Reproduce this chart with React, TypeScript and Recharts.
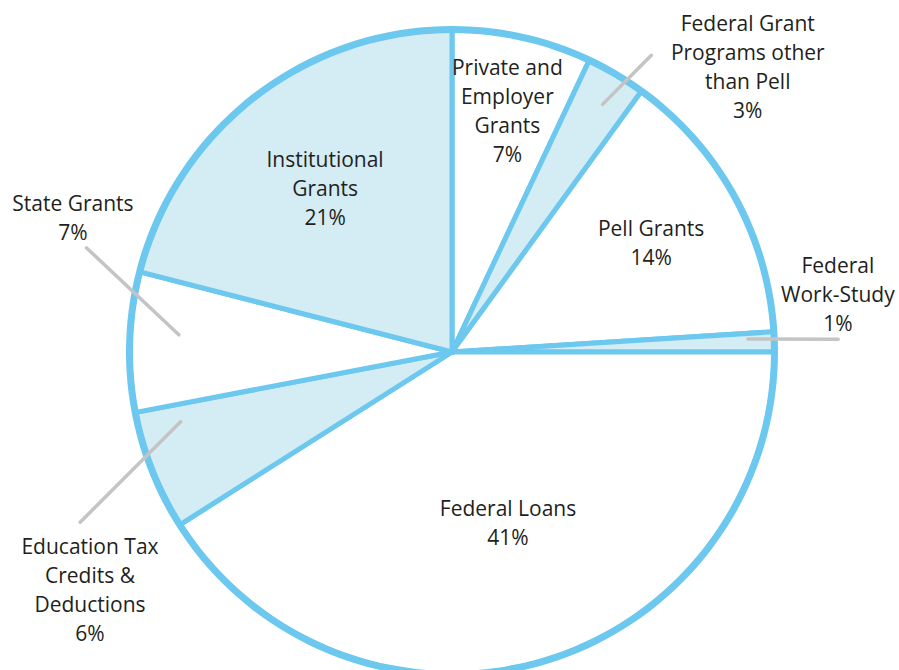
import { PieChart, Pie, Cell } from 'recharts'

const categories = [
  'Private and Employer Grants',
  'Federal Grant Programs other than Pell',
  'Pell Grants',
  'Federal Work-Study',
  'Federal Loans',
  'Education Tax Credits & Deductions',
  'State Grants',
  'Institutional Grants',
]
const shares = [7, 3, 14, 1, 41, 6, 7, 21]
const labelLines = [
  ['Private and', 'Employer', 'Grants'],
  ['Federal Grant', 'Programs other', 'than Pell'],
  ['Pell Grants'],
  ['Federal', 'Work-Study'],
  ['Federal Loans'],
  ['Education Tax', 'Credits &', 'Deductions'],
  ['State Grants'],
  ['Institutional', 'Grants'],
]
const shaded = [false, true, false, true, false, true, false, true]

const data = categories.map((name, i) => ({ name, value: shares[i] }))

const BLUE = '#6cc8ee'
const FILL = '#d4ecf4'
const GREY = '#c4c4c4'
const TEXT = '#231f20'

// label placement: angle clockwise from top (deg), radius as fraction of outer radius
const labelPos = [
  { a: 12.9, r: 0.77 },
  { a: 46.0, r: 1.277 },
  { a: 61.3, r: 0.705 },
  { a: 81.4, r: 1.212 },
  { a: 161.8, r: 0.557 },
  { a: 236.7, r: 1.345 },
  { a: 289.5, r: 1.249 },
  { a: 322.2, r: 0.643 },
]
// leader lines: [angle0, r0, angle1, r1]
const leaders: Record<number, number[]> = {
  1: [31.3, 0.9, 33.9, 1.11],
  3: [87.5, 0.92, 88.1, 1.2],
  5: [255.6, 0.87, 245.4, 1.27],
  6: [273.6, 0.85, 285.9, 1.18],
}

const CX = 452
const CY = 352
const R = 322
const LINE_H = 29

function polar(cx: number, cy: number, a: number, r: number) {
  const rad = (a * Math.PI) / 180
  return { x: cx + r * Math.sin(rad), y: cy - r * Math.cos(rad) }
}

function renderLabel(props: any) {
  const { cx, cy, outerRadius, index } = props
  const lines = [...labelLines[index], `${shares[index]}%`]
  const p = polar(cx, cy, labelPos[index].a, labelPos[index].r * outerRadius)
  const top = p.y - ((lines.length - 1) * LINE_H) / 2
  const ld = leaders[index]
  let leader = null
  if (ld) {
    const s = polar(cx, cy, ld[0], ld[1] * outerRadius)
    const e = polar(cx, cy, ld[2], ld[3] * outerRadius)
    leader = (
      <line x1={s.x} y1={s.y} x2={e.x} y2={e.y} stroke={GREY} strokeWidth={3.5} strokeLinecap="round" />
    )
  }
  return (
    <g key={`lbl-${index}`}>
      {leader}
      <text
        x={p.x}
        y={top}
        textAnchor="middle"
        dominantBaseline="central"
        fill={TEXT}
        fontSize={21}
        fontFamily="'Open Sans', 'Noto Sans', sans-serif"
      >
        {lines.map((t, i) => (
          <tspan key={i} x={p.x} y={top + i * LINE_H}>
            {t}
          </tspan>
        ))}
      </text>
    </g>
  )
}

export default function App() {
  return (
    <div style={{ position: 'absolute', left: 0, top: 0, background: '#fff' }}>
      <PieChart width={899} height={670} margin={{ top: 0, right: 0, bottom: 0, left: 0 }}>
        <Pie
          data={data}
          dataKey="value"
          nameKey="name"
          cx={CX}
          cy={CY}
          outerRadius={R}
          startAngle={90}
          endAngle={-270}
          stroke={BLUE}
          strokeWidth={5}
          label={renderLabel}
          labelLine={false}
          isAnimationActive={false}
        >
          {data.map((d, i) => (
            <Cell key={d.name} fill={shaded[i] ? FILL : '#ffffff'} />
          ))}
        </Pie>
        <Pie
          data={[{ name: 'ring', value: 1 }]}
          dataKey="value"
          cx={CX}
          cy={CY}
          innerRadius={R - 3}
          outerRadius={R + 4}
          startAngle={90}
          endAngle={-270}
          fill={BLUE}
          stroke="none"
          isAnimationActive={false}
        />
      </PieChart>
    </div>
  )
}
